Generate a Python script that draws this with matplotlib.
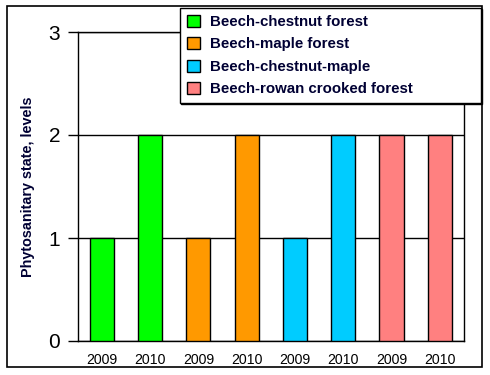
import matplotlib
matplotlib.use("Agg")
import matplotlib.pyplot as plt
from matplotlib.patches import Patch, Rectangle

plt.rcParams['font.family'] = ['Liberation Sans', 'DejaVu Sans']

years = ["2009", "2010", "2009", "2010", "2009", "2010", "2009", "2010"]
values = [1, 2, 1, 2, 1, 2, 2, 2]
forest_types = ["Beech-chestnut forest", "Beech-maple forest",
                "Beech-chestnut-maple", "Beech-rowan crooked forest"]
type_colors = ["#00FF00", "#FF9900", "#00CCFF", "#FF8080"]
bar_type = [0, 0, 1, 1, 2, 2, 3, 3]

fig = plt.figure(figsize=(4.9, 3.75), dpi=100)
ax = fig.add_axes([77.7/490, 1-341/375, (464-77.7)/490, (341-32)/375])

x = list(range(len(values)))
ax.bar(x, values, width=0.5, color=[type_colors[t] for t in bar_type],
       edgecolor='black', linewidth=1, zorder=3)

ax.set_xlim(-0.5, len(values)-0.5)
ax.set_ylim(0, 3)
ax.set_yticks([0, 1, 2, 3])
ax.set_yticklabels(["0", "1", "2", "3"], fontsize=15)
ax.set_xticks(x)
ax.set_xticklabels(years, fontsize=10.2)
ax.tick_params(axis='x', length=0, pad=8.5)
ax.tick_params(axis='y', length=7, width=1, direction='out', pad=5.5)
ax.yaxis.grid(True, color='black', linewidth=1, zorder=0)
ax.set_axisbelow(True)
for s in ax.spines.values():
    s.set_linewidth(1)
    s.set_color('black')

ax.set_ylabel("Phytosanitary state, levels", fontsize=10.4, fontweight='bold',
              color='#000033', labelpad=9.5)

handles = [Patch(facecolor=c, edgecolor='black', linewidth=1) for c in type_colors]
leg = fig.legend(handles, forest_types, loc='upper left',
                 bbox_to_anchor=(180/490, 1-100/375, (481-180)/490, (100-8)/375),
                 mode='expand', fancybox=False, frameon=True,
                 prop={'size': 10.8, 'weight': 'bold'}, handlelength=0.85,
                 handleheight=0.85, handletextpad=0.7, labelspacing=0.55,
                 borderaxespad=0, borderpad=0.45,
                 shadow={'color': 'black', 'alpha': 1, 'ox': 1.0, 'oy': -1.0})
leg.get_frame().set_edgecolor('black')
leg.get_frame().set_linewidth(1)
for t in leg.get_texts():
    t.set_color('#000033')

fig.patches.append(Rectangle((7/490, 1-367/375), (482-7)/490, (367-6)/375,
                             transform=fig.transFigure, fill=False,
                             edgecolor='black', linewidth=1.2, zorder=0))

fig.savefig("out.png", dpi=100)
